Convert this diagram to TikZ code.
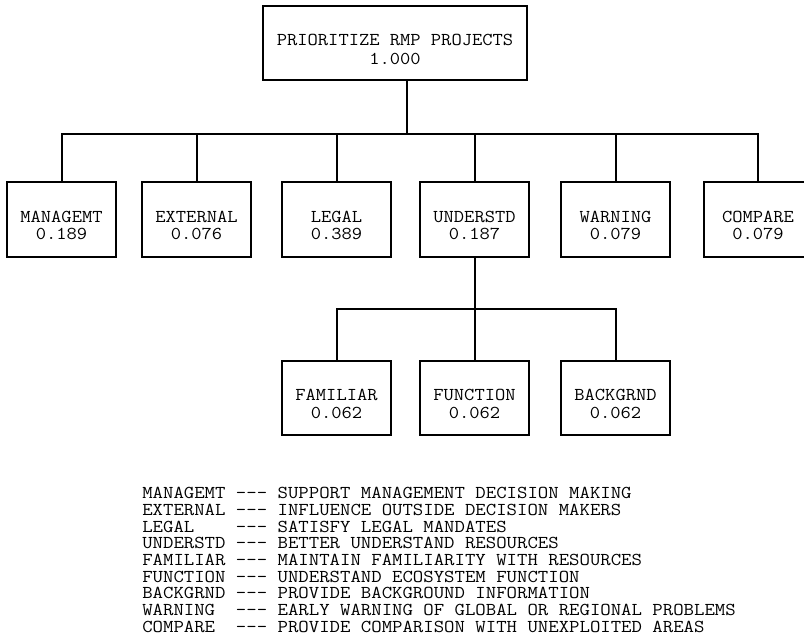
\documentclass[tikz,border=0pt]{standalone}
\usepackage{fontspec}
\usepackage{graphicx}
\usetikzlibrary{positioning}
\newcommand{\boxlabel}[2]{\raisebox{-6pt}[\height][\depth]{\scalebox{1.1}[1]{\begin{tabular}{@{}c@{}}#1\\#2\end{tabular}}}}

\begin{document}
\begin{tikzpicture}[
    x=0.75pt, y=-0.75pt,
    box/.style={draw, line width=1.5pt, minimum width=81.5pt, minimum height=56pt, inner sep=0pt, font=\ttfamily\fontsize{13.6}{13}\selectfont},
    link/.style={line width=1.5pt},
]
\path[use as bounding box, fill=white] (0,0) rectangle (804,641);

\node[box, minimum width=198pt, minimum height=55.5pt, font=\ttfamily\fontsize{13.6}{14}\selectfont] (root) at (395,43) {\boxlabel{PRIORITIZE RMP PROJECTS}{1.000}};

\node[box] (managemt) at (61.5,219.5) {\boxlabel{MANAGEMT}{0.189}};
\node[box] (external) at (196.5,219.5) {\boxlabel{EXTERNAL}{0.076}};
\node[box] (legal) at (336.5,219.5) {\boxlabel{LEGAL}{0.389}};
\node[box] (understd) at (474.5,219.5) {\boxlabel{UNDERSTD}{0.187}};
\node[box] (warning) at (615.5,219.5) {\boxlabel{WARNING}{0.079}};
\node[box] (compare) at (758,219.5) {\boxlabel{COMPARE}{0.079}};

\node[box, below=76.5pt of legal] (familiar) {\boxlabel{FAMILIAR}{0.062}};
\node[box, below=76.5pt of understd] (function) {\boxlabel{FUNCTION}{0.062}};
\node[box, below=76.5pt of warning] (backgrnd) {\boxlabel{BACKGRND}{0.062}};

% top level tree
\path (root.south) ++(12,53) coordinate (topbus);
\draw[link] (root.south -| topbus) -- (topbus);
\draw[link] (topbus) -| (managemt.north);
\draw[link] (topbus) -| (external.north);
\draw[link] (topbus) -| (legal.north);
\draw[link] (topbus) -| (understd.north);
\draw[link] (topbus) -| (warning.north);
\draw[link] (topbus) -| (compare.north);

% under UNDERSTD
\path (understd.south) ++(0,51) coordinate (subbus);
\draw[link] (understd.south) -- (subbus);
\draw[link] (subbus) -| (familiar.north);
\draw[link] (subbus) -| (function.north);
\draw[link] (subbus) -| (backgrnd.north);

% legend
\node[anchor=north west, inner sep=0pt, font=\ttfamily\fontsize{13.6}{12.5}\selectfont] (legend) at (142,487) {%
\scalebox{1.115}[1]{\begin{tabular}[t]{@{}l@{\ }l@{}}
MANAGEMT & --- SUPPORT MANAGEMENT DECISION MAKING\\
EXTERNAL & --- INFLUENCE OUTSIDE DECISION MAKERS\\
LEGAL    & --- SATISFY LEGAL MANDATES\\
UNDERSTD & --- BETTER UNDERSTAND RESOURCES\\
FAMILIAR & --- MAINTAIN FAMILIARITY WITH RESOURCES\\
FUNCTION & --- UNDERSTAND ECOSYSTEM FUNCTION\\
BACKGRND & --- PROVIDE BACKGROUND INFORMATION\\
WARNING  & --- EARLY WARNING OF GLOBAL OR REGIONAL PROBLEMS\\
COMPARE  & --- PROVIDE COMPARISON WITH UNEXPLOITED AREAS
\end{tabular}}};
\end{tikzpicture}
\end{document}
